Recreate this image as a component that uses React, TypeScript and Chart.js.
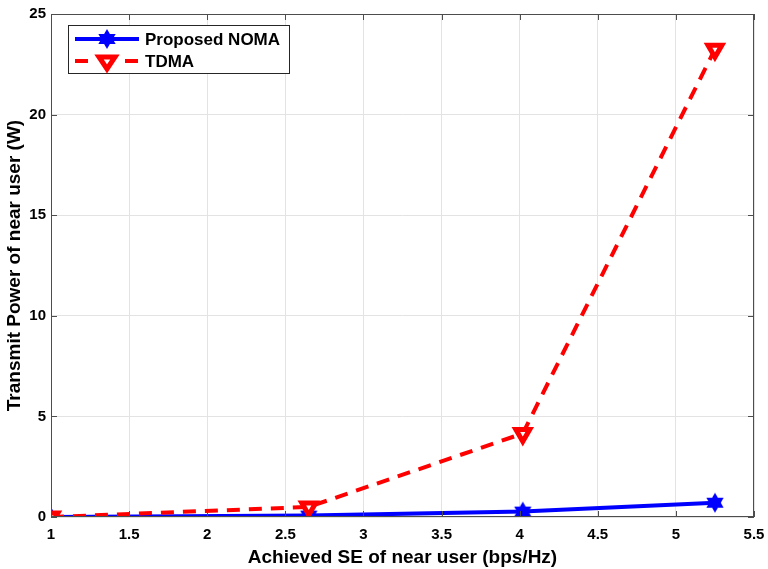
import React, { useEffect, useRef } from "react";
import { Chart, registerables } from "chart.js";

Chart.register(...registerables);

const xNoma = [1, 2.65, 4.02, 5.25];
const yNoma = [0.0, 0.07, 0.27, 0.71];
const xTdma = [1, 2.65, 4.02, 5.25];
const yTdma = [0.0, 0.5, 4.15, 23.25];
const xTickValues = [1, 1.5, 2, 2.5, 3, 3.5, 4, 4.5, 5, 5.5];
const xTickLabels = ["1", "1.5", "2", "2.5", "3", "3.5", "4", "4.5", "5", "5.5"];
const yTickLabels = ["0", "5", "10", "15", "20", "25"];
const seriesNames = ["Proposed NOMA", "TDMA"];
const xTitle = "Achieved SE of near user (bps/Hz)";
const yTitle = "Transmit Power of near user (W)";

const FONT = "'Liberation Sans', Arial, sans-serif";

function drawHexagram(ctx: CanvasRenderingContext2D, cx: number, cy: number, r: number, color: string) {
  ctx.save();
  ctx.fillStyle = color;
  for (let k = 0; k < 2; k++) {
    ctx.beginPath();
    for (let i = 0; i < 3; i++) {
      const a = -Math.PI / 2 + k * Math.PI + (i * 2 * Math.PI) / 3;
      const px = cx + r * Math.cos(a);
      const py = cy + r * Math.sin(a);
      if (i === 0) ctx.moveTo(px, py);
      else ctx.lineTo(px, py);
    }
    ctx.closePath();
    ctx.fill();
  }
  ctx.restore();
}

function makeHexagram(): HTMLCanvasElement {
  const c = document.createElement("canvas");
  c.width = 22;
  c.height = 22;
  const ctx = c.getContext("2d")!;
  drawHexagram(ctx, 11, 11, 10, "#0000ff");
  return c;
}

const frameTicks = {
  id: "frameTicks",
  afterDraw(chart: any) {
    const { ctx, chartArea } = chart;
    const { left, right, top, bottom } = chartArea;
    const xs = chart.scales.x;
    const ys = chart.scales.y;
    ctx.save();
    ctx.strokeStyle = "#4d4d4d";
    ctx.lineWidth = 1;
    ctx.strokeRect(left + 0.5, top + 0.5, right - left - 1, bottom - top - 1);
    ctx.beginPath();
    xTickValues.forEach((v) => {
      const px = Math.round(xs.getPixelForValue(v)) + 0.5;
      ctx.moveTo(px, bottom);
      ctx.lineTo(px, bottom - 6);
      ctx.moveTo(px, top);
      ctx.lineTo(px, top + 6);
    });
    yTickLabels.forEach((l) => {
      const py = Math.round(ys.getPixelForValue(Number(l))) + 0.5;
      ctx.moveTo(left, py);
      ctx.lineTo(left + 6, py);
      ctx.moveTo(right, py);
      ctx.lineTo(right - 6, py);
    });
    ctx.stroke();

    // legend
    const bx = 68, by = 25, bw = 221, bh = 48;
    ctx.fillStyle = "#ffffff";
    ctx.fillRect(bx, by, bw, bh);
    ctx.strokeStyle = "#262626";
    ctx.strokeRect(bx + 0.5, by + 0.5, bw, bh);
    const y1 = 39, y2 = 61;
    ctx.lineWidth = 4;
    ctx.strokeStyle = "#0000ff";
    ctx.beginPath();
    ctx.moveTo(75, y1);
    ctx.lineTo(139, y1);
    ctx.stroke();
    drawHexagram(ctx, 107, y1, 10, "#0000ff");
    ctx.strokeStyle = "#ff0000";
    ctx.beginPath();
    ctx.moveTo(75, y2);
    ctx.lineTo(88, y2);
    ctx.moveTo(125, y2);
    ctx.lineTo(138, y2);
    ctx.stroke();
    ctx.lineWidth = 5;
    ctx.lineJoin = "miter";
    ctx.beginPath();
    ctx.moveTo(99, y2 - 4);
    ctx.lineTo(115, y2 - 4);
    ctx.lineTo(107, y2 + 8);
    ctx.closePath();
    ctx.fillStyle = "#ffffff";
    ctx.fill();
    ctx.stroke();
    ctx.fillStyle = "#000000";
    ctx.font = "bold 17px " + FONT;
    ctx.textBaseline = "middle";
    ctx.textAlign = "left";
    ctx.fillText(seriesNames[0], 145, y1 + 1);
    ctx.fillText(seriesNames[1], 145, y2 + 1);
    ctx.restore();
  },
};

export default function App() {
  const ref = useRef<HTMLCanvasElement>(null);
  useEffect(() => {
    const hex = makeHexagram();
    const chart = new Chart(ref.current!, {
      type: "line",
      data: {
        datasets: [
          {
            label: seriesNames[0],
            data: xNoma.map((x, i) => ({ x, y: yNoma[i] })),
            borderColor: "#0000ff",
            backgroundColor: "#0000ff",
            borderWidth: 4,
            pointStyle: hex as any,
            pointRadius: 10,
            order: 1,
          },
          {
            label: seriesNames[1],
            data: xTdma.map((x, i) => ({ x, y: yTdma[i] })),
            borderColor: "#ff0000",
            backgroundColor: "#ffffff",
            borderWidth: 4,
            borderDash: [13, 9],
            pointStyle: "triangle",
            rotation: 180,
            pointRadius: 8,
            pointBorderWidth: 5,
            order: 0,
          },
        ],
      },
      options: {
        animation: false,
        responsive: false,
        devicePixelRatio: 1,
        layout: { padding: { left: 0, right: 14, top: 12, bottom: 0 } },
        plugins: { legend: { display: false }, tooltip: { enabled: false } },
        scales: {
          x: {
            type: "linear",
            min: 1,
            max: 5.5,
            afterBuildTicks: (s: any) => {
              s.ticks = xTickValues.map((v) => ({ value: v }));
            },
            afterFit: (s: any) => {
              s.height = 52;
              s.paddingLeft = 0;
              s.paddingRight = 0;
            },
            grid: { color: "#e3e3e3", drawTicks: false },
            border: { display: false },
            ticks: {
              callback: (v: any) => xTickLabels[xTickValues.indexOf(Number(v))] ?? "",
              color: "#000",
              font: { size: 15, weight: "bold", family: FONT },
              padding: 9,
              maxRotation: 0,
            },
            title: {
              display: true,
              text: xTitle,
              color: "#000",
              font: { size: 19, weight: "bold", family: FONT },
              padding: { top: 4, bottom: 0 },
            },
          },
          y: {
            type: "linear",
            min: 0,
            max: 25,
            afterBuildTicks: (s: any) => {
              s.ticks = yTickLabels.map((v) => ({ value: Number(v) }));
            },
            afterFit: (s: any) => {
              s.width = 51;
              s.paddingTop = 0;
              s.paddingBottom = 0;
            },
            grid: { color: "#e3e3e3", drawTicks: false },
            border: { display: false },
            ticks: {
              callback: (v: any) => String(v),
              color: "#000",
              font: { size: 15, weight: "bold", family: FONT },
              padding: 5,
            },
            title: {
              display: true,
              text: yTitle,
              color: "#000",
              font: { size: 19, weight: "bold", family: FONT },
              padding: { top: 3, bottom: 0 },
            },
          },
        },
      },
      plugins: [frameTicks],
    });
    return () => chart.destroy();
  }, []);
  return (
    <div style={{ position: "absolute", left: 0, top: 0, width: 768, height: 569, background: "#fff" }}>
      <canvas ref={ref} width={768} height={569} />
    </div>
  );
}
